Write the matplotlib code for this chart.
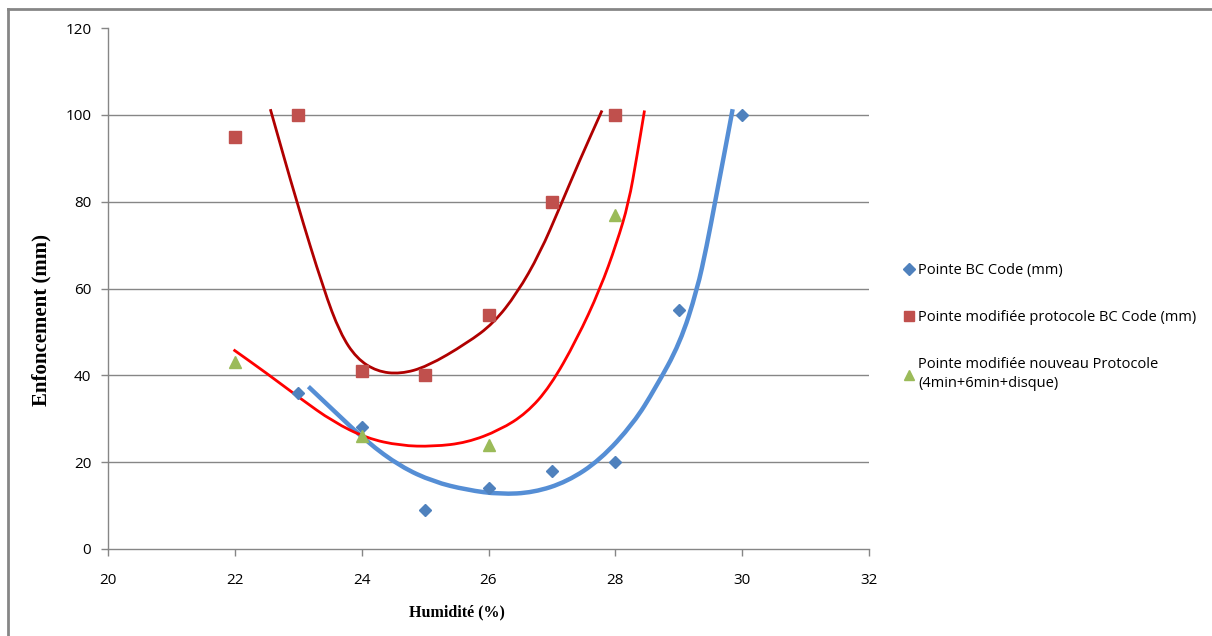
import matplotlib
matplotlib.use("Agg")
import matplotlib.pyplot as plt
from matplotlib.lines import Line2D
from matplotlib.path import Path
from matplotlib.patches import PathPatch

# ---- data ----
hum_bc = [23, 24, 25, 26, 27, 28, 29, 30]
enf_bc = [36, 28, 9, 14, 18, 20, 55, 100]

hum_mod = [22, 23, 24, 25, 26, 27, 28]
enf_mod = [95, 100, 41, 40, 54, 80, 100]

hum_new = [22, 24, 26, 28]
enf_new = [43, 26, 24, 77]

labels = ["Pointe BC Code (mm)",
          "Pointe modifiée protocole BC Code (mm)",
          "Pointe modifiée nouveau Protocole\n(4min+6min+disque)"]

# trend curves as drawn in the reference
trend_bc_x = [23.16, 23.55, 24.08, 24.61, 25.13, 25.66, 26.18, 26.71, 27.24,
              27.76, 28.29, 28.63, 29.02, 29.29, 29.44, 29.57, 29.71, 29.85]
trend_bc_y = [37.4, 32.0, 24.7, 19.0, 15.5, 13.6, 12.6, 13.0, 15.5,
              20.5, 29.0, 37.0, 47.4, 59.7, 69.7, 79.7, 90.4, 101.3]

trend_mod_x = [22.56, 22.98, 23.40, 23.66, 23.92, 24.24, 24.61, 25.03, 25.66,
               26.08, 26.45, 26.81, 27.13, 27.44, 27.79]
trend_mod_y = [101.3, 79.7, 59.8, 49.7, 43.9, 40.9, 40.3, 42.0, 47.4,
               52.0, 58.9, 68.1, 78.9, 89.6, 101.0]

trend_new_x = [21.98, 22.50, 23.03, 23.55, 24.08, 24.61, 25.13, 25.66, 26.18,
               26.60, 26.97, 27.39, 27.76, 28.02, 28.21, 28.34, 28.46]
trend_new_y = [45.9, 40.5, 34.7, 29.3, 25.5, 23.8, 23.6, 24.5, 27.4,
               31.3, 37.4, 48.2, 59.9, 70.4, 79.7, 90.4, 101.0]

x_ticks = [20, 22, 24, 26, 28, 30, 32]
y_ticks = [0, 20, 40, 60, 80, 100, 120]


def smooth_curve(ax, xs, ys, **kw):
    """Draw a smooth path through the read points using quadratic Bezier
    segments (the points act as control points, mid-points as anchors)."""
    pts = list(zip(xs, ys))
    verts = [pts[0]]
    codes = [Path.MOVETO]
    mid = lambda a, b: ((a[0] + b[0]) / 2, (a[1] + b[1]) / 2)
    verts.append(mid(pts[0], pts[1]))
    codes.append(Path.LINETO)
    for i in range(1, len(pts) - 1):
        verts += [pts[i], mid(pts[i], pts[i + 1])]
        codes += [Path.CURVE3, Path.CURVE3]
    verts.append(pts[-1])
    codes.append(Path.LINETO)
    patch = PathPatch(Path(verts, codes), fill=False, capstyle="butt", **kw)
    ax.add_patch(patch)


# ---- figure ----
W, H = 1212, 636
fig = plt.figure(figsize=(W / 100, H / 100), dpi=100)
ax = fig.add_axes([108 / W, 1 - 549 / H, (869 - 108) / W, (549 - 28) / H])

ax.set_xlim(20, 32)
ax.set_ylim(0, 120)
ax.set_xticks(x_ticks)
ax.set_yticks(y_ticks)

for v in [20, 40, 60, 80, 100]:
    ax.axhline(v, color="#868686", lw=1.0, zorder=0)

for s in ["top", "right"]:
    ax.spines[s].set_visible(False)
for s in ["left", "bottom"]:
    ax.spines[s].set_color("#868686")
    ax.spines[s].set_linewidth(1.0)

ax.tick_params(axis="both", colors="#868686", length=5, width=1,
               labelcolor="black", labelsize=11)
ax.tick_params(axis="x", pad=12)
ax.tick_params(axis="y", pad=7)
for lab in ax.get_xticklabels() + ax.get_yticklabels():
    lab.set_family("Open Sans")

# markers
ax.plot(hum_bc, enf_bc, linestyle="none", marker="D", ms=6.5,
        color="#4F81BD", zorder=3)
ax.plot(hum_mod, enf_mod, linestyle="none", marker="s", ms=9,
        color="#C0504D", zorder=3)
ax.plot(hum_new, enf_new, linestyle="none", marker="^", ms=8,
        color="#9BBB59", zorder=3)

# trend curves
smooth_curve(ax, trend_bc_x, trend_bc_y, edgecolor="#558ED5", lw=3.2, zorder=2)
smooth_curve(ax, trend_mod_x, trend_mod_y, edgecolor="#B00000", lw=2.0, zorder=2)
smooth_curve(ax, trend_new_x, trend_new_y, edgecolor="#FF0000", lw=2.0, zorder=2)

ax.set_xlabel("Humidité (%)", family="Liberation Serif", fontsize=11.5,
              fontweight="bold")
ax.xaxis.set_label_coords((457 - 108) / (869 - 108), -(604 - 549) / (549 - 28))
ax.xaxis.label.set_va("top")
ax.set_ylabel("Enfoncement (mm)", family="Liberation Serif", fontsize=15,
              fontweight="bold")
ax.yaxis.set_label_coords(-(108 - 51) / (869 - 108), (549 - 320) / (549 - 28))

# legend
handles = [
    Line2D([], [], linestyle="none", marker="D", ms=6, color="#4F81BD"),
    Line2D([], [], linestyle="none", marker="s", ms=7.5, color="#C0504D"),
    Line2D([], [], linestyle="none", marker="^", ms=7.5, color="#9BBB59"),
]
leg = fig.legend(handles, labels, loc="upper left",
                 bbox_to_anchor=(891 / W, 1 - 250 / H),
                 frameon=False, handlelength=0.6, handletextpad=0.35,
                 labelspacing=2.2, prop={"family": "Open Sans", "size": 10.5})
for t in leg.get_texts():
    t.set_linespacing(1.35)

# chart area border (left and top edges visible)
fig.add_artist(Line2D([8 / W, 8 / W], [0, 1 - 9 / H], transform=fig.transFigure,
                      color="#868686", lw=2))
fig.add_artist(Line2D([8 / W, 1], [1 - 9 / H, 1 - 9 / H], transform=fig.transFigure,
                      color="#868686", lw=2))

fig.savefig("out.png", dpi=100)
